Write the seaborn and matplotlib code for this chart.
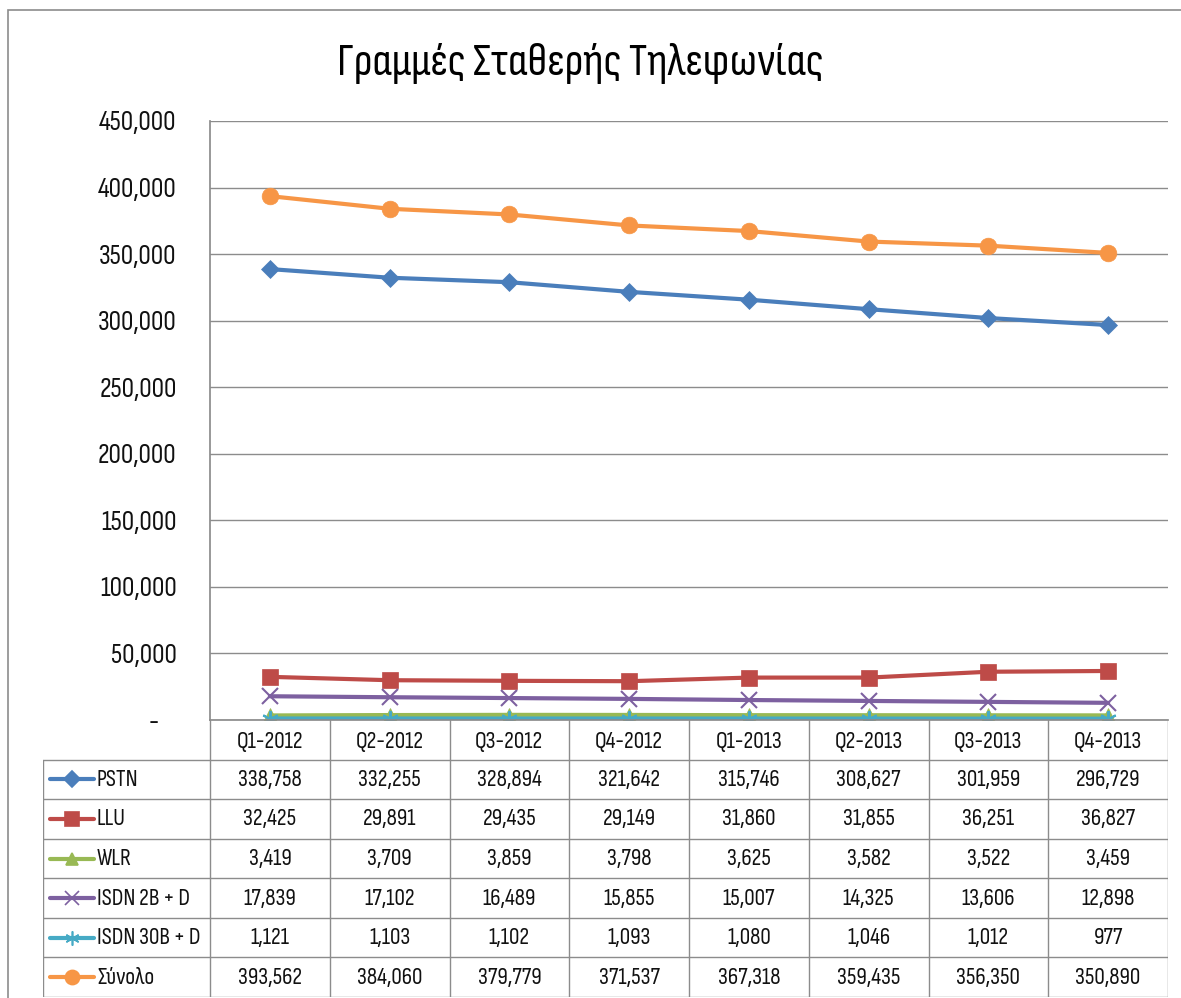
import numpy as np
import pandas as pd
import matplotlib
matplotlib.use("Agg")
import matplotlib.pyplot as plt
import matplotlib.ticker as mticker
from matplotlib.lines import Line2D
from matplotlib.patches import Rectangle
import seaborn as sns

quarters = ["Q1-2012", "Q2-2012", "Q3-2012", "Q4-2012",
            "Q1-2013", "Q2-2013", "Q3-2013", "Q4-2013"]
series_names = ["PSTN", "LLU", "WLR", "ISDN 2B + D", "ISDN 30B + D", "Σύνολο"]
pstn = [338758, 332255, 328894, 321642, 315746, 308627, 301959, 296729]
llu = [32425, 29891, 29435, 29149, 31860, 31855, 36251, 36827]
wlr = [3419, 3709, 3859, 3798, 3625, 3582, 3522, 3459]
isdn2b = [17839, 17102, 16489, 15855, 15007, 14325, 13606, 12898]
isdn30b = [1121, 1103, 1102, 1093, 1080, 1046, 1012, 977]
total = [393562, 384060, 379779, 371537, 367318, 359435, 356350, 350890]
all_values = [pstn, llu, wlr, isdn2b, isdn30b, total]

colors = ["#4A7EBB", "#BE4B48", "#98B954", "#7D60A0", "#46AAC5", "#F79646"]
markers = ["D", "s", "^", "x", (6, 2, 0), "o"]
msizes = [9, 12, 10, 12, 12, 12]

df = pd.DataFrame({
    "quarter": np.tile(np.arange(len(quarters)), len(series_names)),
    "series": np.repeat(series_names, len(quarters)),
    "value": np.concatenate(all_values),
})

sns.set_theme(style="white")
plt.rcParams["font.family"] = ["Sofia Sans Condensed", "DejaVu Sans"]

W, H = 1181, 998
fig = plt.figure(figsize=(W / 100, H / 100), dpi=100)

def fx(px):
    return px / W

def fy(py):
    return 1 - py / H

# outer frame
fig.patches.append(Rectangle((fx(8), fy(1010)), 1.2, fy(10) - fy(1010),
                             transform=fig.transFigure, fill=False,
                             edgecolor="#8c8c8c", lw=1.2))

left, right, top, base, bottom = 210, 1168, 121, 720, 997
ax = fig.add_axes([fx(left), fy(base), fx(right - left), fy(top) - fy(base)])

for name, c, m, ms in zip(series_names, colors, markers, msizes):
    sub = df[df["series"] == name]
    sns.lineplot(data=sub, x="quarter", y="value", ax=ax, color=c, lw=3,
                 marker=m, markersize=ms, markeredgecolor=c,
                 markeredgewidth=1.5 if m in ("x", (6, 2, 0)) else 0.5)

ax.set_xlim(-0.5, len(quarters) - 0.5)
ax.set_ylim(0, 450000)
ax.yaxis.set_major_locator(mticker.MultipleLocator(50000))
ax.yaxis.set_major_formatter(mticker.FuncFormatter(
    lambda v, p: "-    " if v == 0 else f"{v:,.0f}"))
ax.grid(axis="y", color="#8c8c8c", lw=1)
ax.set_xticks([])
ax.set_xlabel("")
ax.set_ylabel("")
ax.tick_params(axis="y", length=0, pad=24, labelsize=20, colors="#111111")
for s in ["top", "right"]:
    ax.spines[s].set_visible(False)
ax.spines["left"].set_color("#8c8c8c")
ax.spines["bottom"].set_color("#8c8c8c")
ax.set_zorder(2)
ax.patch.set_alpha(0)

fig.text(fx(580), fy(63), "Γραμμές Σταθερής Τηλεφωνίας", ha="center", va="center",
         fontsize=33, fontweight="bold", color="#000000")

# data table under the plot
col_w = (right - left) / len(quarters)
lab_w = (left - 43) / col_w
tab = fig.add_axes([fx(43), fy(bottom), fx(right - 43), fy(base) - fy(bottom)])
tab.set_xlim(-0.5 - lab_w, len(quarters) - 0.5)
nrows = len(series_names) + 1
tab.set_ylim(nrows, 0)
tab.axis("off")
gc = "#8c8c8c"
x0 = -0.5 - lab_w
for r in range(1, nrows + 1):
    tab.plot([x0, len(quarters) - 0.5], [r, r], color=gc, lw=1)
for k in range(len(quarters) + 1):
    tab.plot([k - 0.5, k - 0.5], [0, nrows], color=gc, lw=1)
tab.plot([x0, x0], [1, nrows], color=gc, lw=1)

fs = 17
for k, q in enumerate(quarters):
    tab.text(k, 0.55, q, ha="center", va="center", fontsize=fs, color="#111111")
for r, (name, vals, c, m, ms) in enumerate(zip(series_names, all_values, colors, markers, msizes), start=1):
    yc = r + 0.5
    tab.add_line(Line2D([x0 + 0.06, x0 + 0.43], [yc, yc], color=c, lw=3))
    tab.add_line(Line2D([x0 + 0.245], [yc], marker=m, markersize=ms * 0.85,
                        color=c, markeredgecolor=c, markeredgewidth=1.2))
    tab.text(x0 + 0.45, yc, name, ha="left", va="center", fontsize=fs, color="#111111")
    for k, v in enumerate(vals):
        tab.text(k, yc, f"{v:,}", ha="center", va="center", fontsize=fs, color="#111111")

fig.savefig("out.png", dpi=100)
